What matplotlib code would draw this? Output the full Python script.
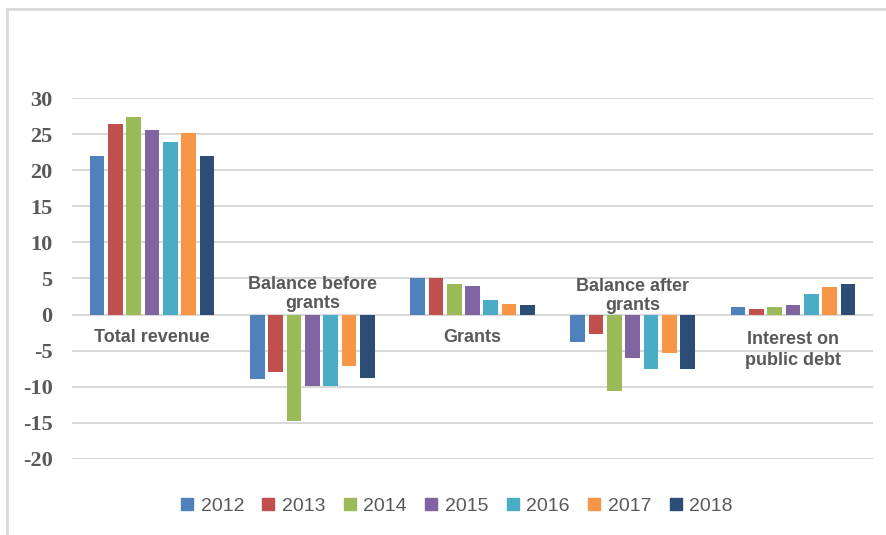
import numpy as np
import matplotlib.pyplot as plt
from matplotlib.lines import Line2D

plt.rcParams['axes.unicode_minus'] = False

# data
categories = ['Total revenue', 'Balance before\ngrants', 'Grants',
              'Balance after\ngrants', 'Interest on\npublic debt']
years = ['2012', '2013', '2014', '2015', '2016', '2017', '2018']
v2012 = [21.9, -8.9, 5.1, -3.8, 1.0]
v2013 = [26.4, -7.9, 5.1, -2.7, 0.8]
v2014 = [27.4, -14.8, 4.3, -10.6, 1.0]
v2015 = [25.5, -9.9, 3.9, -6.0, 1.35]
v2016 = [23.9, -9.9, 2.0, -7.5, 2.9]
v2017 = [25.1, -7.1, 1.5, -5.3, 3.8]
v2018 = [22.0, -8.8, 1.3, -7.5, 4.3]
series = [v2012, v2013, v2014, v2015, v2016, v2017, v2018]
colors = ['#4F81BD', '#C0504D', '#9BBB59', '#8064A2', '#4BACC6', '#F79646', '#2C4D75']

# where each category label sits (in data units)
label_y = [-3.2, 2.9, -3.2, 2.6, -2.3]
label_va = ['center', 'center', 'center', 'center', 'top']
label_ls = [1.15, 1.15, 1.15, 1.15, 1.3]

W, H = 887, 535
fig = plt.figure(figsize=(W / 100, H / 100), dpi=100)
ax = fig.add_axes([72 / W, 1 - 459 / H, (873 - 72) / W, (459 - 98) / H])

x = np.arange(len(categories))
step = 0.8 / len(years)
for i, (vals, c) in enumerate(zip(series, colors)):
    ax.bar(x - 0.4 + step * (i + 0.5), vals, width=step * 0.8, color=c,
           label=years[i], zorder=3)

for xi, lab, yv, va, ls in zip(x, categories, label_y, label_va, label_ls):
    ax.text(xi, yv, lab, ha='center', va=va, fontsize=13, fontweight='bold',
            color='#595959', family='Liberation Sans', linespacing=ls, zorder=4)

ax.set_xlim(-0.5, len(categories) - 0.5)
ax.set_ylim(-20, 30)
ax.set_yticks(range(-20, 31, 5))
ax.set_xticks([])
ax.yaxis.grid(True, color='#D9D9D9', linewidth=1.5, zorder=0)
ax.tick_params(axis='y', length=0, pad=14)
for lab in ax.get_yticklabels():
    lab.set_family('Liberation Serif')
    lab.set_fontweight('bold')
    lab.set_fontsize(16)
    lab.set_color('#595959')
for s in ax.spines.values():
    s.set_visible(False)

handles = [Line2D([], [], marker='s', linestyle='', markersize=9,
                  markerfacecolor=c, markeredgecolor=c) for c in colors]
fig.legend(handles, years, loc='center', bbox_to_anchor=(456 / W, 1 - 506 / H),
           ncol=7, frameon=False, handlelength=0.8, handletextpad=0.3,
           columnspacing=0.85, prop={'family': 'Liberation Sans', 'size': 14},
           labelcolor='#595959')

# outer frame (top and left edges visible)
fig.add_artist(Line2D([7 / W, 1], [1 - 9 / H, 1 - 9 / H], color='#D9D9D9', linewidth=2))
fig.add_artist(Line2D([7 / W, 7 / W], [0, 1 - 9 / H], color='#D9D9D9', linewidth=2))

fig.savefig('out.png', dpi=100)
